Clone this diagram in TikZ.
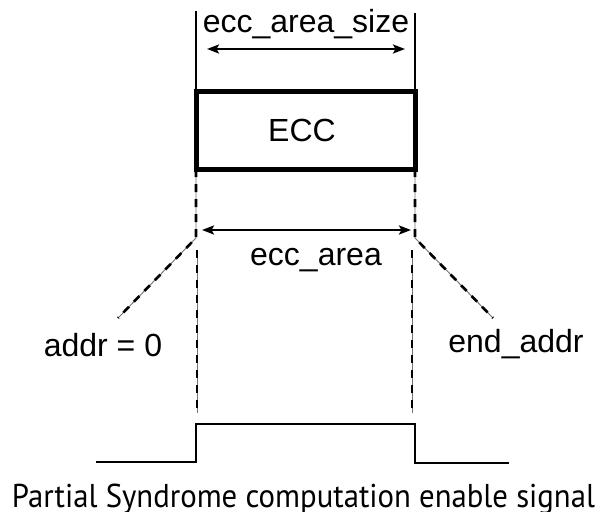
\documentclass[tikz,border=0pt]{standalone}
\usepackage{fontspec}
\usepackage{graphicx}
\setmainfont{Liberation Sans}
\newfontfamily\capfont{PT Sans}
\usetikzlibrary{arrows.meta}
\begin{document}
\begin{tikzpicture}[x=1pt,y=-1pt,
  lbl/.style={font=\fontsize{32}{38}\selectfont, inner sep=0pt},
  dim/.style={line width=2.6pt, {Stealth[length=12pt,width=9pt,inset=2.5pt]}-{Stealth[length=12pt,width=9pt,inset=2.5pt]}},
  guide/.style={line width=1.8pt},
  dashguide/.style={draw=black!55, line width=0.9pt,
    postaction={draw=black, line width=2.6pt, dash pattern=on 8pt off 7pt}},
  sig/.style={line width=2.5pt},
  eccbox/.style={draw, line width=5pt, minimum width=219pt, minimum height=78pt,
    inner sep=0pt}
]
\useasboundingbox (0,0) rectangle (601,511);

% box
\node[eccbox] (ecc) at (305.5,130) {};
\node[lbl, anchor=base] (ecctxt) at (302,141) {ECC};

% top guides
\coordinate (tl) at (196,11);
\coordinate (tr) at (415,13);
\coordinate (bl) at (196,91);
\coordinate (br) at (415,91);
\draw[guide] (tl) -- (bl);
\draw[guide] (tr) -- (br);

% top dimension
\coordinate (al) at (207,49);
\coordinate (ar) at (405,49);
\draw[dim] (al) -- (ar);
\node[lbl, anchor=base] (sizetxt) at (306,33) {ecc\_area\_size};

% lower guides with diagonals
\coordinate (lb) at (196,169);
\coordinate (lj) at (196,238);
\coordinate (ld) at (118,318);
\coordinate (rb) at (415,169);
\coordinate (rj) at (415,238);
\coordinate (rd) at (493,318);
\draw[dashguide] (lb) -- (lj) -- (ld);
\draw[dashguide] (rb) -- (rj) -- (rd);

% dashed verticals
\coordinate (lv1) at (197,250);
\coordinate (lv2) at (197,413);
\coordinate (rv1) at (412,250);
\coordinate (rv2) at (412,413);
\draw[dashguide] (lv1) -- (lv2);
\draw[dashguide] (rv1) -- (rv2);

% middle dimension
\coordinate (ml) at (202,230);
\coordinate (mr) at (411,230);
\draw[dim] (ml) -- (mr);
\node[lbl, anchor=base] (areatxt) at (316,265) {ecc\_area};

% address labels
\node[lbl, anchor=base] (addr0) at (103,356) {addr = 0};
\node[lbl, anchor=base] (endaddr) at (516,352) {end\_addr};

% signal
\coordinate (s0) at (96,462);
\coordinate (s1) at (196,462);
\coordinate (s2) at (196,424);
\coordinate (s3) at (415,424);
\coordinate (s4) at (415,463);
\coordinate (s5) at (509,463);
\draw[sig] (s0) -- (s1) -- (s2) -- (s3) -- (s4) -- (s5);

% caption
\node[inner sep=0pt, anchor=base, font=\capfont\fontsize{33}{38}\selectfont] (cap) at (303.5,507) {\resizebox{583pt}{\height}{Partial Syndrome computation enable signal}};
\end{tikzpicture}
\end{document}
